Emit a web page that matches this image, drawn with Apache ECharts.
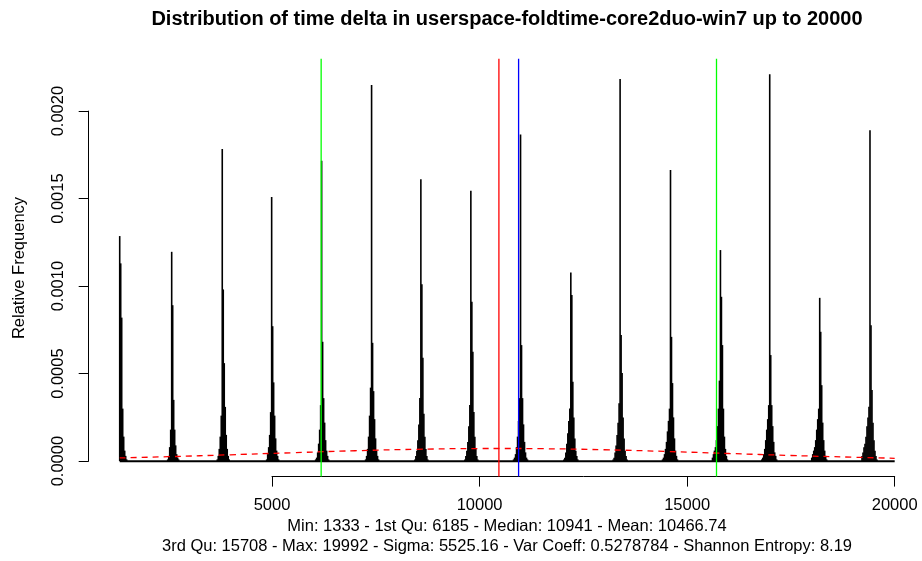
<!DOCTYPE html>
<html><head><meta charset="utf-8">
<script src="https://cdn.jsdelivr.net/npm/echarts@6/dist/echarts.min.js"></script>
<style>html,body{margin:0;padding:0;background:#fff}#c{width:922px;height:561px}</style>
</head><body><div id="c"></div>
<script>
// ---- text ----
const titleText = "Distribution of time delta in userspace-foldtime-core2duo-win7 up to 20000";
const subLine1 = "Min: 1333 - 1st Qu: 6185 - Median: 10941 - Mean: 10466.74";
const subLine2 = "3rd Qu: 15708 - Max: 19992 - Sigma: 5525.16 - Var Coeff: 0.5278784 - Shannon Entropy: 8.19";
const yAxisTitle = "Relative Frequency";

// ---- axes ----
const xTicks = [5000, 10000, 15000, 20000];
const yTicks = [0, 0.0005, 0.001, 0.0015, 0.002];
const xRange = [586, 20747];
const yRange = [-0.0000884, 0.0022994];

// ---- summary statistics (vertical lines) ----
const firstQu = 6185;
const median = 10941;
const mean = 10466.74;
const thirdQu = 15708;
const dataMin = 1333;
const dataEnd = 20000;

// ---- spike clusters ----
const clusterCenters = [1333, 2585, 3803, 4993, 6197, 7400, 8587, 9791, 10988, 12199, 13386, 14600, 15803, 16990, 18194, 19405];
const spikeOffsets = [-192, -168, -144, -120, -96, -72, -48, -24, 0, 24, 48, 72, 96, 120, 144, 168];
const clusterHeights = [
  [0, 0, 0, 0, 0, 0, 0, 0, 0.001286, 0.00113, 0.00082, 0.0003, 0.00014, 0.00006, 0.00003, 0.00001],
  [0, 0, 0, 0, 0.00001, 0.00003, 0.00008, 0.00018, 0.001196, 0.000891, 0.00035, 0.00018, 0.00009, 0.00004, 0.00002, 0.00001],
  [0, 0, 0, 0.00001, 0.00003, 0.00007, 0.00014, 0.00026, 0.001783, 0.000981, 0.00056, 0.00031, 0.00015, 0.00007, 0.00003, 0.00001],
  [0, 0, 0, 0.00001, 0.00004, 0.00008, 0.00015, 0.00028, 0.001509, 0.000771, 0.00045, 0.00026, 0.00013, 0.00006, 0.00003, 0.00001],
  [0, 0, 0.00001, 0.00002, 0.00005, 0.0001, 0.00018, 0.00032, 0.001716, 0.000682, 0.00036, 0.00022, 0.00012, 0.00006, 0.00003, 0.00001],
  [0, 0, 0.00001, 0.00003, 0.00007, 0.00014, 0.00026, 0.00042, 0.002149, 0.000676, 0.0004, 0.00024, 0.00013, 0.00006, 0.00003, 0.00001],
  [0, 0, 0.00001, 0.00003, 0.00006, 0.00012, 0.00021, 0.00036, 0.00161, 0.001011, 0.00059, 0.00027, 0.00014, 0.00007, 0.00003, 0.00001],
  [0, 0, 0.00001, 0.00003, 0.00006, 0.00011, 0.0002, 0.00032, 0.001545, 0.00091, 0.000625, 0.00028, 0.00014, 0.00007, 0.00003, 0.00001],
  [0, 0.00001, 0.00002, 0.00004, 0.00008, 0.00014, 0.00023, 0.00036, 0.001867, 0.000663, 0.00036, 0.00021, 0.00011, 0.00005, 0.00002, 0.00001],
  [0, 0.00001, 0.00002, 0.00005, 0.0001, 0.00016, 0.00023, 0.0003, 0.001078, 0.000949, 0.000453, 0.00025, 0.00013, 0.00006, 0.00003, 0.00001],
  [0, 0.00001, 0.00002, 0.00005, 0.00009, 0.00015, 0.00022, 0.00033, 0.002183, 0.00072, 0.000503, 0.00025, 0.00013, 0.00006, 0.00003, 0.00001],
  [0.00001, 0.00002, 0.00004, 0.00007, 0.00011, 0.00017, 0.00023, 0.0003, 0.001663, 0.00071, 0.000446, 0.00025, 0.00013, 0.00006, 0.00003, 0.00001],
  [0.00002, 0.00004, 0.00006, 0.00008, 0.00012, 0.0002, 0.0003, 0.00046, 0.001206, 0.000939, 0.000663, 0.0003, 0.00014, 0.00007, 0.00003, 0.00001],
  [0.00001, 0.00002, 0.00004, 0.00007, 0.00012, 0.00018, 0.00024, 0.00032, 0.002211, 0.000606, 0.00032, 0.0002, 0.00011, 0.00005, 0.00003, 0.00001],
  [0.00002, 0.00004, 0.00006, 0.00008, 0.00012, 0.00018, 0.00024, 0.0003, 0.000933, 0.000739, 0.000434, 0.00022, 0.00012, 0.00006, 0.00003, 0.00001],
  [0.00003, 0.00005, 0.00008, 0.0001, 0.00014, 0.0002, 0.00025, 0.00031, 0.001891, 0.000777, 0.000406, 0.00022, 0.00012, 0.00006, 0.00003, 0.00001]
];

// ---- red dashed density curve ----
const densityX = [1333, 2500, 4000, 5500, 7000, 8500, 10000, 10500, 11500, 13000, 14500, 16000, 17500, 19000, 20000];
const densityY = [0.0000184, 0.0000254, 0.0000363, 0.0000481, 0.0000593, 0.0000677, 0.000072, 0.0000722, 0.000071, 0.000065, 0.0000553, 0.0000437, 0.0000323, 0.0000224, 0.0000163];

// ---- build ----
const spikes = [];
clusterCenters.forEach((c, i) => {
  spikeOffsets.forEach((o, j) => {
    const h = clusterHeights[i][j];
    if (h > 0) spikes.push([c + o, h]);
  });
});
const density = densityX.map((x, i) => [x, densityY[i]]);
const vline = (x, color) => ({
  type: 'line', xAxisIndex: 0, yAxisIndex: 0, silent: true, symbol: 'none',
  data: [[x, yRange[0]], [x, yRange[1]]],
  lineStyle: {color: color, width: 1.3}
});

const FONT = "'Liberation Sans', Arial, Helvetica, sans-serif";
const chart = echarts.init(document.getElementById('c'), null, {renderer: 'canvas'});
chart.setOption({
  animation: false,
  backgroundColor: '#fff',
  grid: [
    {left: 88.7, top: 58.7, width: 837, height: 417.9, containLabel: false, outerBoundsMode: 'none'},
    {left: 272, top: 300, width: 622.7, height: 176.6, containLabel: false, outerBoundsMode: 'none'},
    {left: 88.7, top: 111.1, width: 10, height: 350, containLabel: false, outerBoundsMode: 'none'}
  ],
  xAxis: [
    {gridIndex: 0, type: 'value', min: xRange[0], max: xRange[1], show: false},
    {gridIndex: 1, type: 'value', min: xTicks[0], max: xTicks[xTicks.length - 1], interval: 5000,
      axisLine: {show: true, lineStyle: {color: '#000', width: 1}},
      axisTick: {show: true, length: 10, lineStyle: {color: '#000'}},
      splitLine: {show: false},
      axisLabel: {color: '#000', fontFamily: FONT, fontSize: 16.5, margin: 20, formatter: v => String(v)}},
    {gridIndex: 2, type: 'value', show: false, min: 0, max: 1}
  ],
  yAxis: [
    {gridIndex: 0, type: 'value', min: yRange[0], max: yRange[1], show: false},
    {gridIndex: 1, type: 'value', show: false, min: 0, max: 1},
    {gridIndex: 2, type: 'value', min: yTicks[0], max: yTicks[yTicks.length - 1], interval: 0.0005,
      axisLine: {show: true, lineStyle: {color: '#000', width: 1}},
      axisTick: {show: true, length: 10, lineStyle: {color: '#000'}},
      splitLine: {show: false},
      axisLabel: {color: '#000', fontFamily: FONT, fontSize: 16.5, margin: 22, rotate: 90,
        formatter: v => v.toFixed(4)}}
  ],
  graphic: [
    {type: 'text', x: 507, y: 19, style: {text: titleText, fill: '#000', font: 'bold 20px ' + FONT, textAlign: 'center', textVerticalAlign: 'middle'}},
    {type: 'text', x: 507, y: 526.5, style: {text: subLine1, fill: '#000', font: '16.5px ' + FONT, textAlign: 'center', textVerticalAlign: 'middle'}},
    {type: 'text', x: 507, y: 546.5, style: {text: subLine2, fill: '#000', font: '16.5px ' + FONT, textAlign: 'center', textVerticalAlign: 'middle'}},
    {type: 'text', x: 19, y: 268, rotation: Math.PI / 2, style: {text: yAxisTitle, fill: '#000', font: '16.5px ' + FONT, textAlign: 'center', textVerticalAlign: 'middle'}}
  ],
  series: [
    {type: 'bar', xAxisIndex: 0, yAxisIndex: 0, data: spikes, barWidth: 1.6, itemStyle: {color: '#000'}, silent: true},
    {type: 'line', xAxisIndex: 0, yAxisIndex: 0, data: [[dataMin, 0], [dataEnd, 0]], symbol: 'none', lineStyle: {color: '#000', width: 2}, silent: true},
    {type: 'line', xAxisIndex: 0, yAxisIndex: 0, data: density, smooth: true, symbol: 'none', lineStyle: {color: '#ff0000', width: 1.3, type: [6, 5]}, silent: true},
    vline(firstQu, '#00ff00'),
    vline(thirdQu, '#00ff00'),
    vline(mean, '#ff0000'),
    vline(median, '#0000ff')
  ]
});
</script></body></html>
